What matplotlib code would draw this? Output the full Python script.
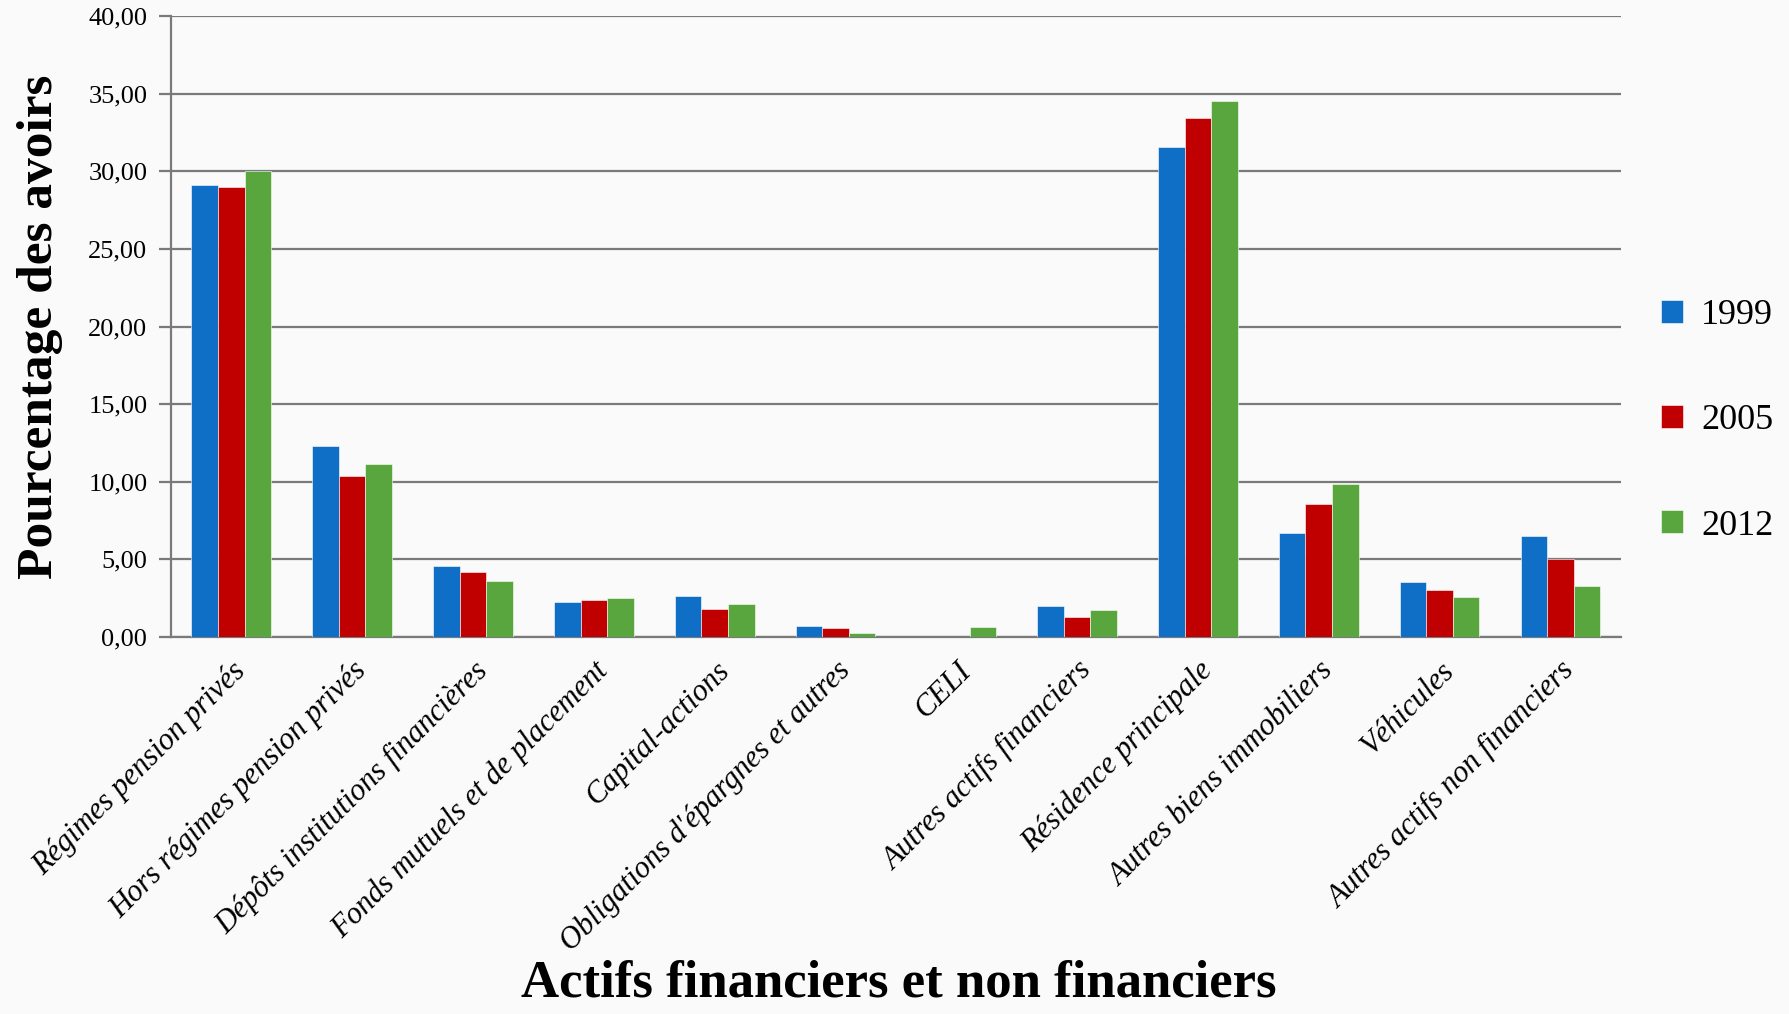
from matplotlib import pyplot as plt
from matplotlib.ticker import FuncFormatter
import numpy as np

# Categories and values (percentage of assets)
categories = ["Régimes pension privés", "Hors régimes pension privés",
              "Dépôts institutions financières", "Fonds mutuels et de placement",
              "Capital-actions", "Obligations d'épargnes et autres", "CELI",
              "Autres actifs financiers", "Résidence principale",
              "Autres biens immobiliers", "Véhicules", "Autres actifs non financiers"]
years = ["1999", "2005", "2012"]
vals_1999 = [29.13, 12.30, 4.56, 2.24, 2.60, 0.70, 0.00, 2.01, 31.54, 6.71, 3.55, 6.50]
vals_2005 = [28.99, 10.36, 4.19, 2.36, 1.78, 0.58, 0.00, 1.29, 33.41, 8.53, 2.99, 5.00]
vals_2012 = [30.02, 11.11, 3.62, 2.50, 2.13, 0.23, 0.65, 1.73, 34.53, 9.84, 2.57, 3.30]
colors = ["#0F6EC6", "#C00000", "#58A63D"]

plt.rcParams['font.family'] = ['Liberation Serif', 'DejaVu Serif']

fig = plt.figure(figsize=(17.9, 10.14), dpi=100, facecolor='#fafafa')
ax = fig.add_axes([0.0955, 0.372, 0.81, 0.612])
ax.set_facecolor('none')

x = np.arange(len(categories))
w = 0.22
series = [vals_1999, vals_2005, vals_2012]
for k in range(3):
    ax.bar(x + (k - 1) * w, series[k], w, color=colors[k], label=years[k],
           edgecolor='white', linewidth=0.4, zorder=3)

ax.set_xlim(-0.5, len(categories) - 0.5)
ax.set_ylim(0, 40)
ax.set_yticks(np.arange(0, 41, 5))
ax.yaxis.set_major_formatter(FuncFormatter(lambda v, p: f"{v:.2f}".replace('.', ',')))
ax.grid(axis='y', color='#7a7a7a', linewidth=1.6, zorder=0)

for s in ['top', 'right']:
    ax.spines[s].set_visible(False)
for s in ['left', 'bottom']:
    ax.spines[s].set_color('#7a7a7a')
    ax.spines[s].set_linewidth(1.6)

ax.tick_params(axis='y', length=9, width=1.6, color='#7a7a7a', labelsize=19, pad=8)
ax.tick_params(axis='x', length=0, pad=14)
ax.set_xticks(x)
ax.set_xticklabels(categories, rotation=45, ha='right', rotation_mode='anchor',
                   fontsize=22, style='italic')

ax.set_ylabel("Pourcentage des avoirs", fontsize=37, fontweight='bold', labelpad=18)
fig.text(0.502, 0.006, "Actifs financiers et non financiers", fontsize=38,
         fontweight='bold', ha='center', va='bottom')

fig.legend(loc='center left', bbox_to_anchor=(0.91, 0.585), frameon=False,
           fontsize=26, labelspacing=2.0, handlelength=0.6, handleheight=0.6,
           handletextpad=0.5)

plt.savefig('out.png', dpi=100, facecolor=fig.get_facecolor())
plt.close()
